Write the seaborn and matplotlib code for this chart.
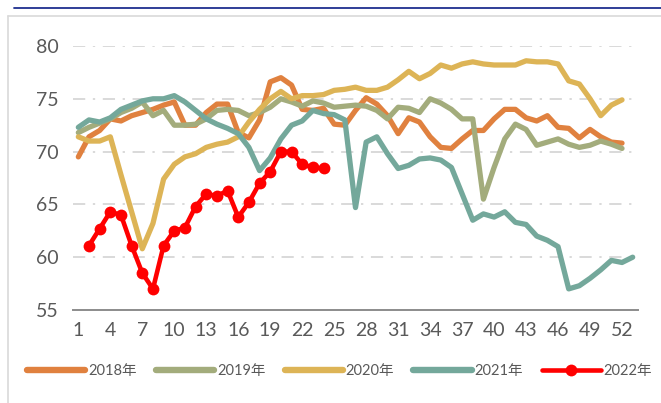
import numpy as np
import pandas as pd
import matplotlib
matplotlib.use("Agg")
import matplotlib.pyplot as plt
from matplotlib.lines import Line2D
import seaborn as sns

weeks = list(range(1, 54))

y2018 = [69.5, 71.4, 72.0, 73.1, 72.9, 73.4, 73.7, 74.0, 74.4, 74.7,
         72.5, 72.5, 73.7, 74.5, 74.5, 71.8, 71.3, 73.0, 76.6, 77.0,
         76.3, 74.0, 73.9, 74.1, 72.6, 72.5, 73.9, 75.1, 74.5, 73.4,
         71.7, 73.2, 72.8, 71.4, 70.4, 70.3, 71.2, 72.0, 72.0, 73.1,
         74.0, 74.0, 73.2, 72.9, 73.4, 72.3, 72.2, 71.3, 72.1, 71.4,
         70.9, 70.8, np.nan]
y2019 = [71.8, 72.3, 72.7, 73.1, 73.7, 74.1, 74.7, 73.4, 73.9, 72.5,
         72.5, 72.6, 73.1, 73.9, 74.0, 73.9, 73.4, 73.7, 74.2, 75.0,
         74.7, 74.3, 74.8, 74.6, 74.2, 74.3, 74.4, 74.3, 73.9, 73.1,
         74.2, 74.1, 73.7, 75.0, 74.6, 74.0, 73.1, 73.1, 65.5, 68.5,
         71.2, 72.6, 72.1, 70.6, 70.9, 71.2, 70.7, 70.4, 70.6, 71.0,
         70.7, 70.3, np.nan]
y2020 = [71.4, 71.0, 71.0, 71.4, 67.8, 64.3, 60.8, 63.2, 67.4, 68.8,
         69.5, 69.8, 70.4, 70.7, 70.9, 71.4, 72.8, 74.0, 75.0, 75.7,
         75.0, 75.3, 75.3, 75.4, 75.8, 75.9, 76.1, 75.8, 75.8, 76.1,
         76.8, 77.6, 76.9, 77.4, 78.2, 77.9, 78.3, 78.5, 78.3, 78.2,
         78.2, 78.2, 78.6, 78.5, 78.5, 78.3, 76.7, 76.4, 75.0, 73.4,
         74.4, 74.9, np.nan]
y2021 = [72.3, 73.0, 72.8, 73.2, 74.0, 74.4, 74.8, 75.0, 75.0, 75.3,
         74.7, 73.9, 73.1, 72.6, 72.2, 71.7, 70.4, 68.2, 69.4, 71.2,
         72.5, 72.9, 73.9, 73.6, 73.5, 73.0, 64.7, 70.9, 71.4, 69.8,
         68.4, 68.7, 69.3, 69.4, 69.2, 68.5, 66.0, 63.5, 64.1, 63.8,
         64.3, 63.3, 63.1, 62.0, 61.6, 61.0, 57.0, 57.3, 58.0, 58.8,
         59.7, 59.5, 60.0]
y2022 = [np.nan, 61.1, 62.7, 64.3, 64.0, 61.1, 58.5, 57.0, 61.1, 62.5,
         62.8, 64.8, 66.0, 65.8, 66.3, 63.8, 65.2, 67.0, 68.1, 70.0,
         70.0, 68.8, 68.5, 68.4] + [np.nan] * 29

series_names = ["2018年", "2019年", "2020年", "2021年", "2022年"]
series_values = [y2018, y2019, y2020, y2021, y2022]
colors = ["#E0813F", "#A3AC7C", "#DDB456", "#74A89B", "#FF0000"]
xtick_labels = list(range(1, 53, 3))
ytick_labels = [55, 60, 65, 70, 75, 80]

sns.set_theme(style="white")
plt.rcParams["font.family"] = ["Lato", "Noto Sans CJK SC", "DejaVu Sans"]

W, H = 661, 403
fig = plt.figure(figsize=(W / 100, H / 100), dpi=100)
ax = fig.add_axes([73 / W, 1 - 310 / H, (638 - 73) / W, (310 - 46) / H])

handles = []
for name, vals, col in zip(series_names, series_values, colors):
    df = pd.DataFrame({"week": weeks, "value": vals}).dropna()
    if name == "2022年":
        sns.lineplot(data=df, x="week", y="value", ax=ax, color=col, lw=3.3,
                     marker="o", markersize=8.5, markeredgewidth=0, zorder=5)
        handles.append(Line2D([], [], color=col, lw=3.3, marker="o",
                              markersize=8.5, markeredgewidth=0))
    else:
        sns.lineplot(data=df, x="week", y="value", ax=ax, color=col, lw=3.8,
                     zorder=3)
        handles.append(Line2D([], [], color=col, lw=4.6, solid_capstyle="round"))

ax.set_xlim(0.5, 53.5)
ax.set_ylim(55, 80)
ax.set_xticks(xtick_labels)
ax.set_xticklabels([str(v) for v in xtick_labels])
ax.set_yticks(ytick_labels)
ax.set_yticklabels([str(v) for v in ytick_labels])
ax.set_xlabel("")
ax.set_ylabel("")
ax.tick_params(axis="both", length=0, labelsize=14, colors="#595959")
ax.tick_params(axis="x", pad=9)
ax.tick_params(axis="y", pad=10)
for v in ytick_labels[1:]:
    ax.axhline(v, color="#D0D0D0", lw=1.1, ls=(0, (8, 5, 1.5, 5)), zorder=1)
for s in ["top", "right", "left"]:
    ax.spines[s].set_visible(False)
ax.spines["bottom"].set_color("#8C8C8C")
ax.spines["bottom"].set_linewidth(1.4)
ax.set_facecolor("none")

leg = fig.legend(handles, series_names, loc="center", ncol=5,
                 bbox_to_anchor=(339.5 / W, 1 - 371 / H), frameon=False,
                 fontsize=10.5, handlelength=4.0, handletextpad=0.2,
                 columnspacing=1.3, labelcolor="#595959")

# frame decorations
fig.add_artist(Line2D([14 / W, 1], [1 - 8 / H, 1 - 8 / H], color="#1F2F8F", lw=1.3,
                      transform=fig.transFigure))
fig.add_artist(Line2D([8 / W, 1], [1 - 15.5 / H, 1 - 15.5 / H], color="#D9D9D9", lw=1.2,
                      transform=fig.transFigure))
fig.add_artist(Line2D([8 / W, 8 / W], [0, 1 - 15.5 / H], color="#D9D9D9", lw=1.2,
                      transform=fig.transFigure))

fig.savefig("out.png", dpi=100)
